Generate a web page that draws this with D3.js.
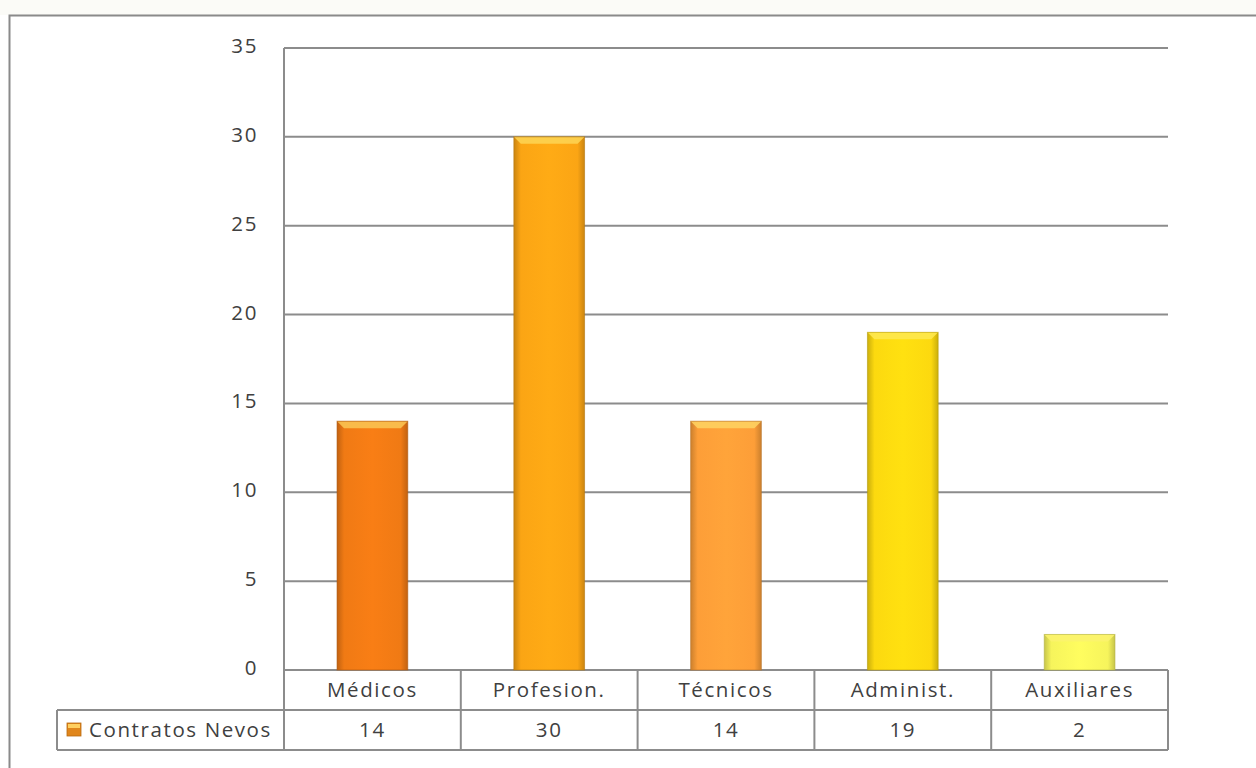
<!DOCTYPE html>
<html><head><meta charset="utf-8">
<script src="https://cdn.jsdelivr.net/npm/d3@7"></script>
<style>body{margin:0;background:#fff;}svg{display:block;font-family:"Open Sans",Carlito,"Liberation Sans",sans-serif;}</style>
</head><body><svg id="c" width="1256" height="768"></svg>
<script>
const categories = ["Médicos","Profesion.","Técnicos","Administ.","Auxiliares"];
const values = [14,30,14,19,2];
const seriesName = "Contratos Nevos";
const yTicks = [0,5,10,15,20,25,30,35];
const barColors = ["#F07A14","#FBA514","#FD9E38","#FCD90F","#F6F45C"];

const svg = d3.select("#c");
svg.append("rect").attr("x",0).attr("y",0).attr("width",1256).attr("height",15).attr("fill","#fbfbf7");
svg.append("rect").attr("x",9.5).attr("y",15.5).attr("width",1300).attr("height",800)
  .attr("fill","#fff").attr("stroke","#8a8a8a").attr("stroke-width",2);

const FS = 20.5, LS = 1.6, TXT = "#404040";
const L=284, R=1168, T=48, B=670;
const x = d3.scaleBand().domain(categories).range([L,R]).paddingInner(0.6).paddingOuter(0.3);
const xc = d3.scaleBand().domain(categories).range([L,R]);
const y = d3.scaleLinear().domain([0,35]).range([B,T]);

// gridlines
svg.append("g").selectAll("line").data(yTicks).join("line")
  .attr("x1",L).attr("x2",R).attr("y1",d=>y(d)).attr("y2",d=>y(d))
  .attr("stroke","#8c8c8c").attr("stroke-width",2);
svg.append("line").attr("x1",L).attr("x2",L).attr("y1",T).attr("y2",B).attr("stroke","#8c8c8c").attr("stroke-width",2);

// y labels
svg.append("g").selectAll("text").data(yTicks).join("text")
  .attr("x",258).attr("y",d=>y(d)+5).attr("text-anchor","end")
  .attr("font-size",FS).attr("letter-spacing",LS).attr("fill",TXT).text(d=>d);

// gradients
const defs = svg.append("defs");
barColors.forEach((c,i)=>{
  const g = defs.append("linearGradient").attr("id","g"+i).attr("x1","0").attr("x2","1").attr("y1","0").attr("y2","0");
  const dk = d3.color(c).darker(0.6), lt = d3.color(c).brighter(0.1);
  g.append("stop").attr("offset","0").attr("stop-color",dk);
  g.append("stop").attr("offset","0.1").attr("stop-color",c);
  g.append("stop").attr("offset","0.5").attr("stop-color",lt);
  g.append("stop").attr("offset","0.9").attr("stop-color",c);
  g.append("stop").attr("offset","1").attr("stop-color",dk);
});
const data = categories.map((c,i)=>({c,v:values[i],i}));
const bars = svg.append("g").selectAll("g").data(data).join("g");
bars.append("rect").attr("x",d=>x(d.c)).attr("y",d=>y(d.v)).attr("width",x.bandwidth())
  .attr("height",d=>B-y(d.v)).attr("fill",d=>`url(#g${d.i})`);
bars.append("path").attr("d",d=>{
  const x0=x(d.c), x1=x0+x.bandwidth(), y0=y(d.v), b=7;
  return `M${x0},${y0}L${x1},${y0}L${x1-b},${y0+b}L${x0+b},${y0+b}Z`;
}).attr("fill",d=>d3.interpolateRgb(barColors[d.i],"#fff27a")(0.6)).attr("opacity",0.9);
bars.append("rect").attr("x",d=>x(d.c)).attr("y",d=>y(d.v)).attr("width",x.bandwidth())
  .attr("height",d=>B-y(d.v)).attr("fill","none").attr("stroke",d=>d3.color(barColors[d.i]).darker(0.9)).attr("stroke-width",1).attr("opacity",0.6);

// table
const tg = svg.append("g");
const r1 = 710, r2 = 750, legL = 57;
tg.append("line").attr("x1",legL).attr("x2",R).attr("y1",r1).attr("y2",r1).attr("stroke","#8c8c8c").attr("stroke-width",2);
tg.append("line").attr("x1",legL).attr("x2",R).attr("y1",r2).attr("y2",r2).attr("stroke","#8c8c8c").attr("stroke-width",2);
tg.append("line").attr("x1",legL).attr("x2",legL).attr("y1",r1).attr("y2",r2).attr("stroke","#8c8c8c").attr("stroke-width",2);
tg.selectAll("line.v").data(categories.concat(["_end"])).join("line").attr("class","v")
  .attr("x1",(d,i)=>L+i*xc.bandwidth()).attr("x2",(d,i)=>L+i*xc.bandwidth())
  .attr("y1",B).attr("y2",r2).attr("stroke","#8c8c8c").attr("stroke-width",2);
tg.selectAll("text.cat").data(categories).join("text").attr("class","cat")
  .attr("x",d=>xc(d)+xc.bandwidth()/2).attr("y",697).attr("text-anchor","middle")
  .attr("font-size",FS).attr("letter-spacing",LS).attr("fill",TXT).text(d=>d);
tg.selectAll("text.val").data(values).join("text").attr("class","val")
  .attr("x",(d,i)=>xc(categories[i])+xc.bandwidth()/2).attr("y",737).attr("text-anchor","middle")
  .attr("font-size",FS).attr("letter-spacing",LS).attr("fill",TXT).text(d=>d);
tg.append("rect").attr("x",67).attr("y",723).attr("width",14).attr("height",13).attr("fill","#E0861C").attr("stroke","#b86a10").attr("stroke-width",0.8);
tg.append("rect").attr("x",68).attr("y",724).attr("width",12).attr("height",4).attr("fill","#FFD060");
tg.append("text").attr("x",89).attr("y",737).attr("font-size",FS).attr("letter-spacing",LS).attr("fill",TXT).text(seriesName);
</script></body></html>
